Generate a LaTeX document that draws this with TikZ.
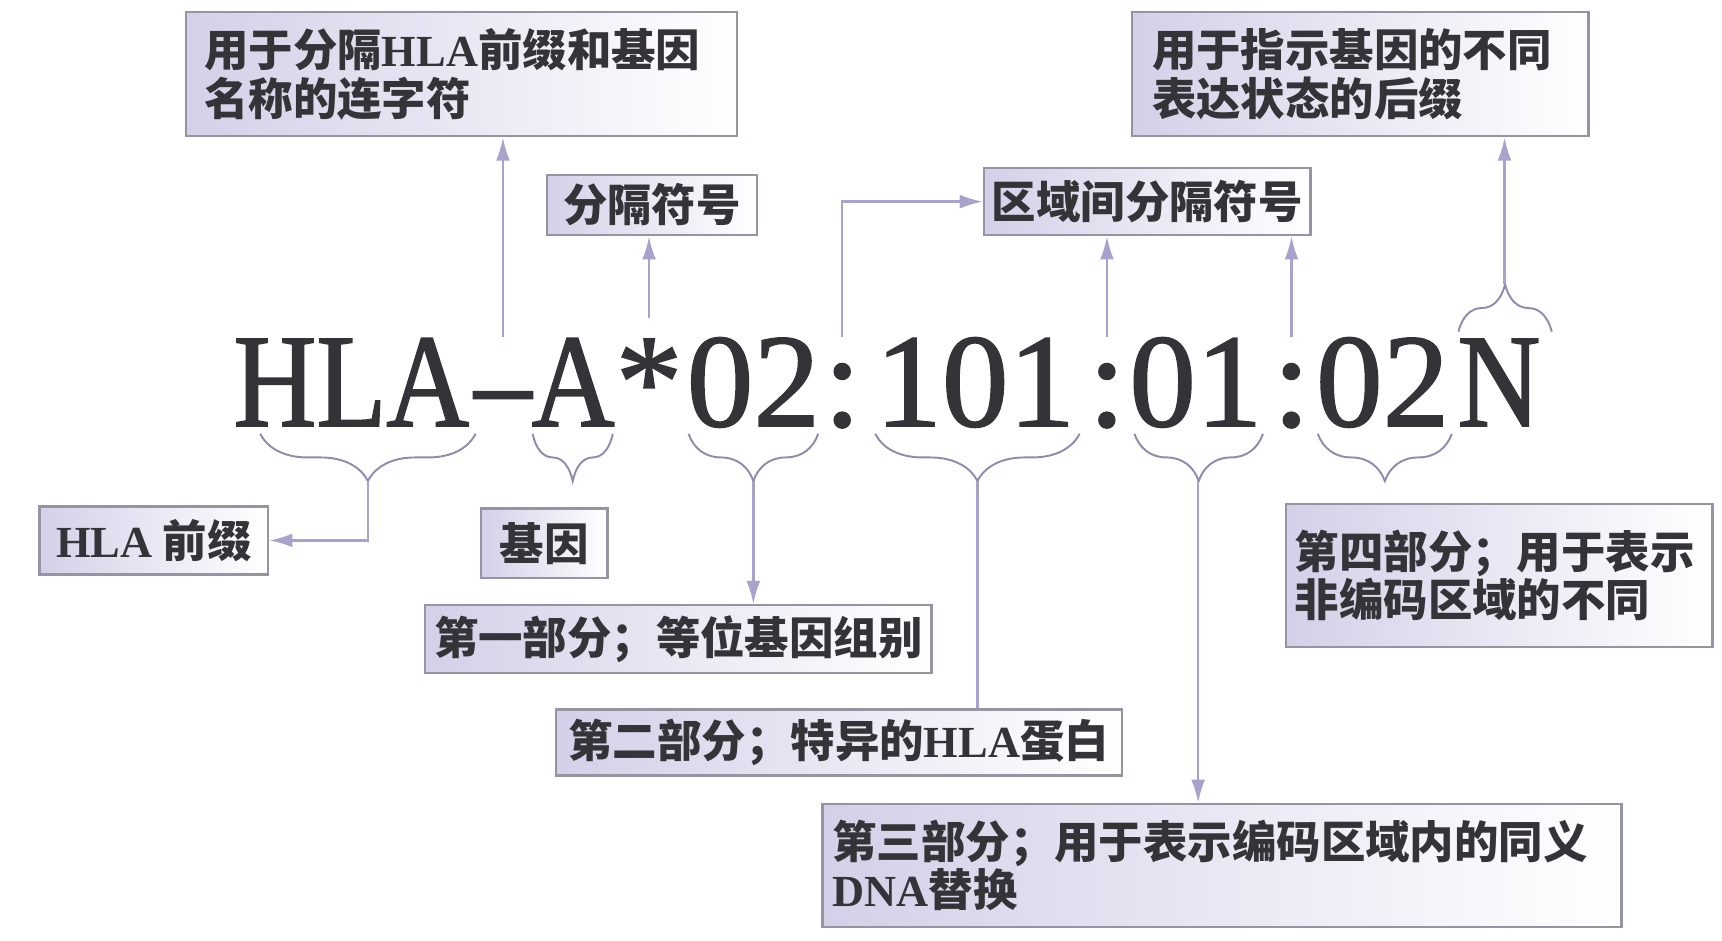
\documentclass[tikz,border=0pt]{standalone}
\usepackage{fontspec}
\setmainfont{Liberation Serif}
\newfontfamily\cjk{Noto Sans CJK SC}
\newfontfamily\bignum{Liberation Serif}[FakeBold=1.3]
\newfontfamily\bigletter{Liberation Serif}[FakeBold=1.3, FakeStretch=0.86]
\usetikzlibrary{arrows.meta,decorations.pathreplacing}

\definecolor{boxlav}{RGB}{212,208,232}
\definecolor{boxline}{RGB}{150,148,162}
\definecolor{linecol}{RGB}{168,163,204}
\definecolor{inkcol}{RGB}{52,52,56}

\newcommand{\lat}[1]{{\rmfamily\bfseries #1}}

\tikzset{
  tagbox/.style={draw=boxline, line width=0.6pt, left color=boxlav, right color=white,
    anchor=north west, inner sep=0pt, text=inkcol,
    font=\cjk\bfseries\fontsize{11.5}{12.6}\selectfont},
  part/.style={anchor=base, inner sep=0pt, text height=0.8cm, text depth=0pt,
    text=inkcol, font=\bignum\fontsize{34.5}{40}\selectfont},
  letter/.style={part, font=\bigletter\fontsize{34.5}{40}\selectfont},
  conn/.style={draw=linecol, line width=0.6pt},
  pointer/.style={conn, -{Latex[length=6pt,width=3.6pt]}},
  curly/.style={draw=linecol!85!black, line width=0.5pt, decorate,
    decoration={brace, amplitude=0.43cm}},
}

\begin{document}
\begin{tikzpicture}[x=0.01cm, y=-0.01cm]
  \useasboundingbox (0,0) rectangle (1568,856);

  % allele name
  \node[letter] (sHLA) at (320,388)  {HLA};
  \node[letter] (sDash) at (458,388) {\textendash};
  \node[letter] (sA)   at (522,388)  {A};
  \node[part] (sStar)  at (591,388)  {*};
  \node[part] (sG1)    at (686,388)  {02};
  \node[part] (sC1)    at (767,388)  {:};
  \node[part] (sG2)    at (888,388)  {101};
  \node[part] (sC2)    at (1008,388) {:};
  \node[part] (sG3)    at (1089,388) {01};
  \node[part] (sC3)    at (1176,388) {:};
  \node[part] (sG4)    at (1259,388) {02};
  \node[letter] (sN)   at (1365,388) {N};

  % upper boxes
  \node[tagbox, text width=4.68cm, inner xsep=0.17cm, minimum height=1.13cm, align=left]
    (bxHyphen) at (168,10) {用于分隔\lat{HLA}前缀和基因\\名称的连字符};
  \node[tagbox, minimum width=1.91cm, minimum height=0.55cm] (bxSep) at (497,158) {分隔符号};
  \node[tagbox, minimum width=2.97cm, minimum height=0.61cm] (bxRegion) at (895,152) {区域间分隔符号};
  \node[tagbox, text width=3.79cm, inner xsep=0.18cm, minimum height=1.13cm, align=left]
    (bxSuffix) at (1030,10) {用于指示基因的不同\\表达状态的后缀};

  % lower boxes
  \node[tagbox, minimum width=2.08cm, minimum height=0.62cm] (bxPrefix) at (35,460) {\lat{HLA} 前缀};
  \node[tagbox, minimum width=1.15cm, minimum height=0.63cm] (bxGene) at (437,462) {基因};
  \node[tagbox, minimum width=4.61cm, minimum height=0.62cm] (bxOne) at (386,550) {第一部分；等位基因组别};
  \node[tagbox, minimum width=5.15cm, minimum height=0.60cm] (bxTwo) at (505,645) {第二部分；特异的\lat{HLA}蛋白};
  \node[tagbox, text width=3.72cm, inner xsep=0.08cm, minimum height=1.30cm, align=left]
    (bxFour) at (1170,458) {第四部分；用于表示\\非编码区域的不同};
  \node[tagbox, text width=7.09cm, inner xsep=0.09cm, minimum height=1.12cm, align=left]
    (bxThree) at (748,731) {第三部分；用于表示编码区域内的同义\\\lat{DNA}替换};

  % braces
  \draw[curly, decoration={mirror}] (237,395) -- (433,395);
  \draw[curly, decoration={mirror}] (485,395) -- (558,395);
  \draw[curly, decoration={mirror}] (627,395) -- (745,395);
  \draw[curly, decoration={mirror}] (797,395) -- (983,395);
  \draw[curly, decoration={mirror}] (1033,395) -- (1150,395);
  \draw[curly, decoration={mirror}] (1200,395) -- (1322,395);
  \draw[curly] (1328,302) -- (1413,302);
  \coordinate (tHLA) at (335,438);
  \coordinate (tG1)  at (686,438);
  \coordinate (tG2)  at (890,438);
  \coordinate (tG3)  at (1091,438);
  \coordinate (tN)   at (1370,259);

  % connectors
  \draw[pointer] (sDash.north) -- (sDash.north |- bxHyphen.south);
  \draw[pointer] ([yshift=0.18cm]sStar.north) -- (sStar.north |- bxSep.south);
  \draw[pointer] (sC1.north) |- (bxRegion.west);
  \draw[pointer] (sC2.north) -- (sC2.north |- bxRegion.south);
  \draw[pointer] (sC3.north) -- (sC3.north |- bxRegion.south);
  \draw[pointer] (tN) -- (tN |- bxSuffix.south);
  \draw[pointer] (tHLA) |- (bxPrefix.east);
  \draw[pointer] (tG1) -- (tG1 |- bxOne.north);
  \draw[conn] (tG2) -- (tG2 |- bxTwo.north);
  \draw[pointer] (tG3) -- (tG3 |- bxThree.north);
\end{tikzpicture}
\end{document}
